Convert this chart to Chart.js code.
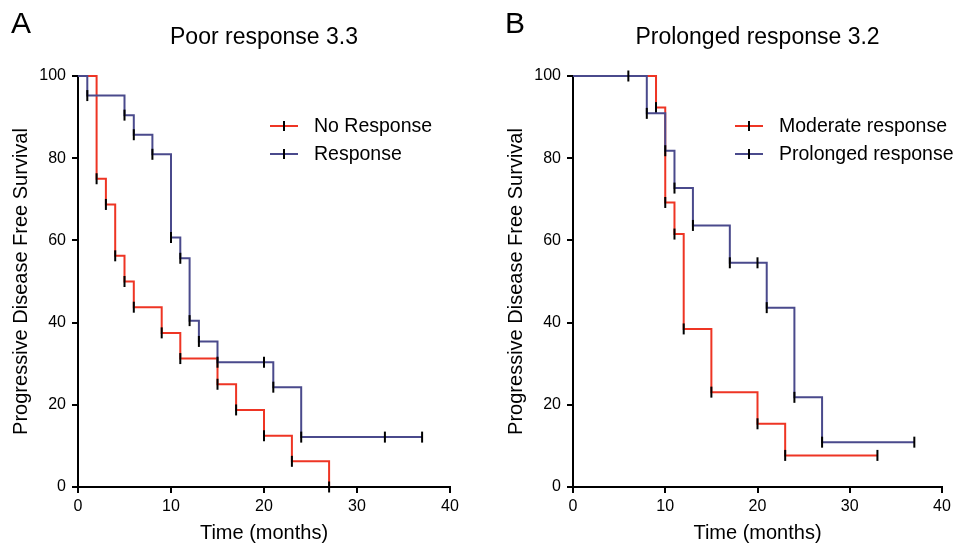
<!DOCTYPE html>
<html>
<head>
<meta charset="utf-8">
<script src="https://cdn.jsdelivr.net/npm/chart.js@4"></script>
<style>
body { margin: 0; background: #fff; width: 961px; height: 548px; overflow: hidden; position: relative; }
canvas { position: absolute; top: 0; }
#panelA { left: 0; }
#panelB { left: 480px; }
</style>
</head>
<body>
<canvas id="panelA" width="480" height="548"></canvas>
<canvas id="panelB" width="481" height="548"></canvas>
<script>
// Panel A - Poor response 3.3
const mesesNoResp = [0, 2, 3, 4, 5, 6, 9, 11, 15, 17, 20, 23, 27];
const supNoResp = [100, 75, 68.75, 56.25, 50, 43.75, 37.5, 31.25, 25, 18.75, 12.5, 6.25, 0];
const mesesResp = [0, 1, 5, 6, 8, 10, 11, 12, 13, 15, 20, 21, 24, 33, 37];
const supResp = [100, 95.24, 90.48, 85.71, 80.95, 60.71, 55.65, 40.48, 35.42, 30.36, 30.36, 24.29, 12.14, 12.14, 12.14];

// Panel B - Prolonged response 3.2
const mesesModerada = [0, 9, 10, 11, 12, 15, 20, 23, 33];
const supModerada = [100, 92.31, 69.23, 61.54, 38.46, 23.08, 15.38, 7.69, 7.69];
const mesesProlongada = [0, 6, 8, 10, 11, 13, 17, 20, 21, 24, 27, 37];
const supProlongada = [100, 100, 90.91, 81.82, 72.73, 63.64, 54.55, 54.55, 43.64, 21.82, 10.91, 10.91];

const ticksX = [0, 10, 20, 30, 40];
const ticksY = [0, 20, 40, 60, 80, 100];

const fuente = '"Liberation Sans", Arial, sans-serif';
const rojo = '#ee3524';
const azul = '#4a4a8c';

function puntos(meses, sup) {
    return meses.map((m, i) => ({ x: m, y: sup[i] }));
}

function serie(meses, sup, color, orden) {
    return {
        data: puntos(meses, sup),
        borderColor: color,
        borderWidth: 2,
        stepped: true,
        fill: false,
        order: orden,
        clip: false,
        pointStyle: 'line',
        rotation: 90,
        pointRadius: (c) => c.dataIndex === 0 ? 0 : 5.5,
        pointBorderColor: '#000',
        pointBorderWidth: 2,
        pointBackgroundColor: '#000'
    };
}

// textos del panel: letra, titulo y leyenda
const textosPanel = {
    id: 'textosPanel',
    afterDraw(chart, args, opts) {
        const ctx = chart.ctx;
        const area = chart.chartArea;
        ctx.save();
        ctx.fillStyle = '#000';
        ctx.textBaseline = 'alphabetic';
        ctx.textAlign = 'left';
        ctx.font = '30px ' + fuente;
        ctx.fillText(opts.letra, opts.letraX, 33);
        ctx.textAlign = 'center';
        ctx.font = '23px ' + fuente;
        ctx.fillText(opts.titulo, (area.left + area.right) / 2, 44);

        ctx.font = '19.5px ' + fuente;
        ctx.textAlign = 'left';
        ctx.textBaseline = 'middle';
        opts.leyenda.forEach((item, i) => {
            const y = 126 + i * 28;
            const x = opts.leyendaX;
            ctx.lineWidth = 2;
            ctx.strokeStyle = item.color;
            ctx.beginPath();
            ctx.moveTo(x, y);
            ctx.lineTo(x + 28, y);
            ctx.stroke();
            ctx.strokeStyle = '#000';
            ctx.beginPath();
            ctx.moveTo(x + 14, y - 5);
            ctx.lineTo(x + 14, y + 5);
            ctx.stroke();
            ctx.fillText(item.texto, x + 44, y + 1);
        });
        ctx.restore();
    }
};

function crearPanel(id, cfg) {
    const ctx = document.getElementById(id).getContext('2d');
    return new Chart(ctx, {
        type: 'line',
        data: { datasets: cfg.datasets },
        plugins: [textosPanel],
        options: {
            responsive: false,
            animation: false,
            events: [],
            layout: { padding: { top: 76, left: cfg.padIzq, right: cfg.padDer, bottom: 0 } },
            plugins: {
                legend: { display: false },
                tooltip: { enabled: false },
                textosPanel: cfg.textos
            },
            scales: {
                x: {
                    type: 'linear',
                    min: 0,
                    max: 40,
                    afterBuildTicks: (s) => { s.ticks = ticksX.map(v => ({ value: v })); },
                    afterFit: (s) => { s.height = 61; },
                    border: { display: true, color: '#000', width: 2 },
                    grid: { drawOnChartArea: false, drawTicks: true, tickLength: 6, color: '#000', lineWidth: 2 },
                    ticks: { color: '#000', font: { size: 16, family: fuente }, padding: 4, maxRotation: 0 },
                    title: { display: true, text: 'Time (months)', color: '#000', font: { size: 20, family: fuente }, padding: { top: 0, bottom: 3 } }
                },
                y: {
                    min: 0,
                    max: 100,
                    afterBuildTicks: (s) => { s.ticks = ticksY.map(v => ({ value: v })); },
                    afterFit: (s) => { s.width = cfg.anchoY; },
                    border: { display: true, color: '#000', width: 2 },
                    grid: { drawOnChartArea: false, drawTicks: true, tickLength: 6, color: '#000', lineWidth: 2 },
                    ticks: { color: '#000', font: { size: 16, family: fuente }, padding: 6 },
                    title: { display: true, text: 'Progressive Disease Free Survival', color: '#000', font: { size: 20, family: fuente }, padding: { top: 0, bottom: 0 } }
                }
            }
        }
    });
}

crearPanel('panelA', {
    padIzq: 9, padDer: 30, anchoY: 69,
    datasets: [
        serie(mesesNoResp, supNoResp, rojo, 1),
        serie(mesesResp, supResp, azul, 0)
    ],
    textos: {
        letra: 'A', letraX: 11, titulo: 'Poor response 3.3', leyendaX: 270,
        leyenda: [{ texto: 'No Response', color: rojo }, { texto: 'Response', color: azul }]
    }
});

crearPanel('panelB', {
    padIzq: 24, padDer: 19, anchoY: 69,
    datasets: [
        serie(mesesModerada, supModerada, rojo, 1),
        serie(mesesProlongada, supProlongada, azul, 0)
    ],
    textos: {
        letra: 'B', letraX: 25, titulo: 'Prolonged response 3.2', leyendaX: 255,
        leyenda: [{ texto: 'Moderate response', color: rojo }, { texto: 'Prolonged response', color: azul }]
    }
});
</script>
</body>
</html>
